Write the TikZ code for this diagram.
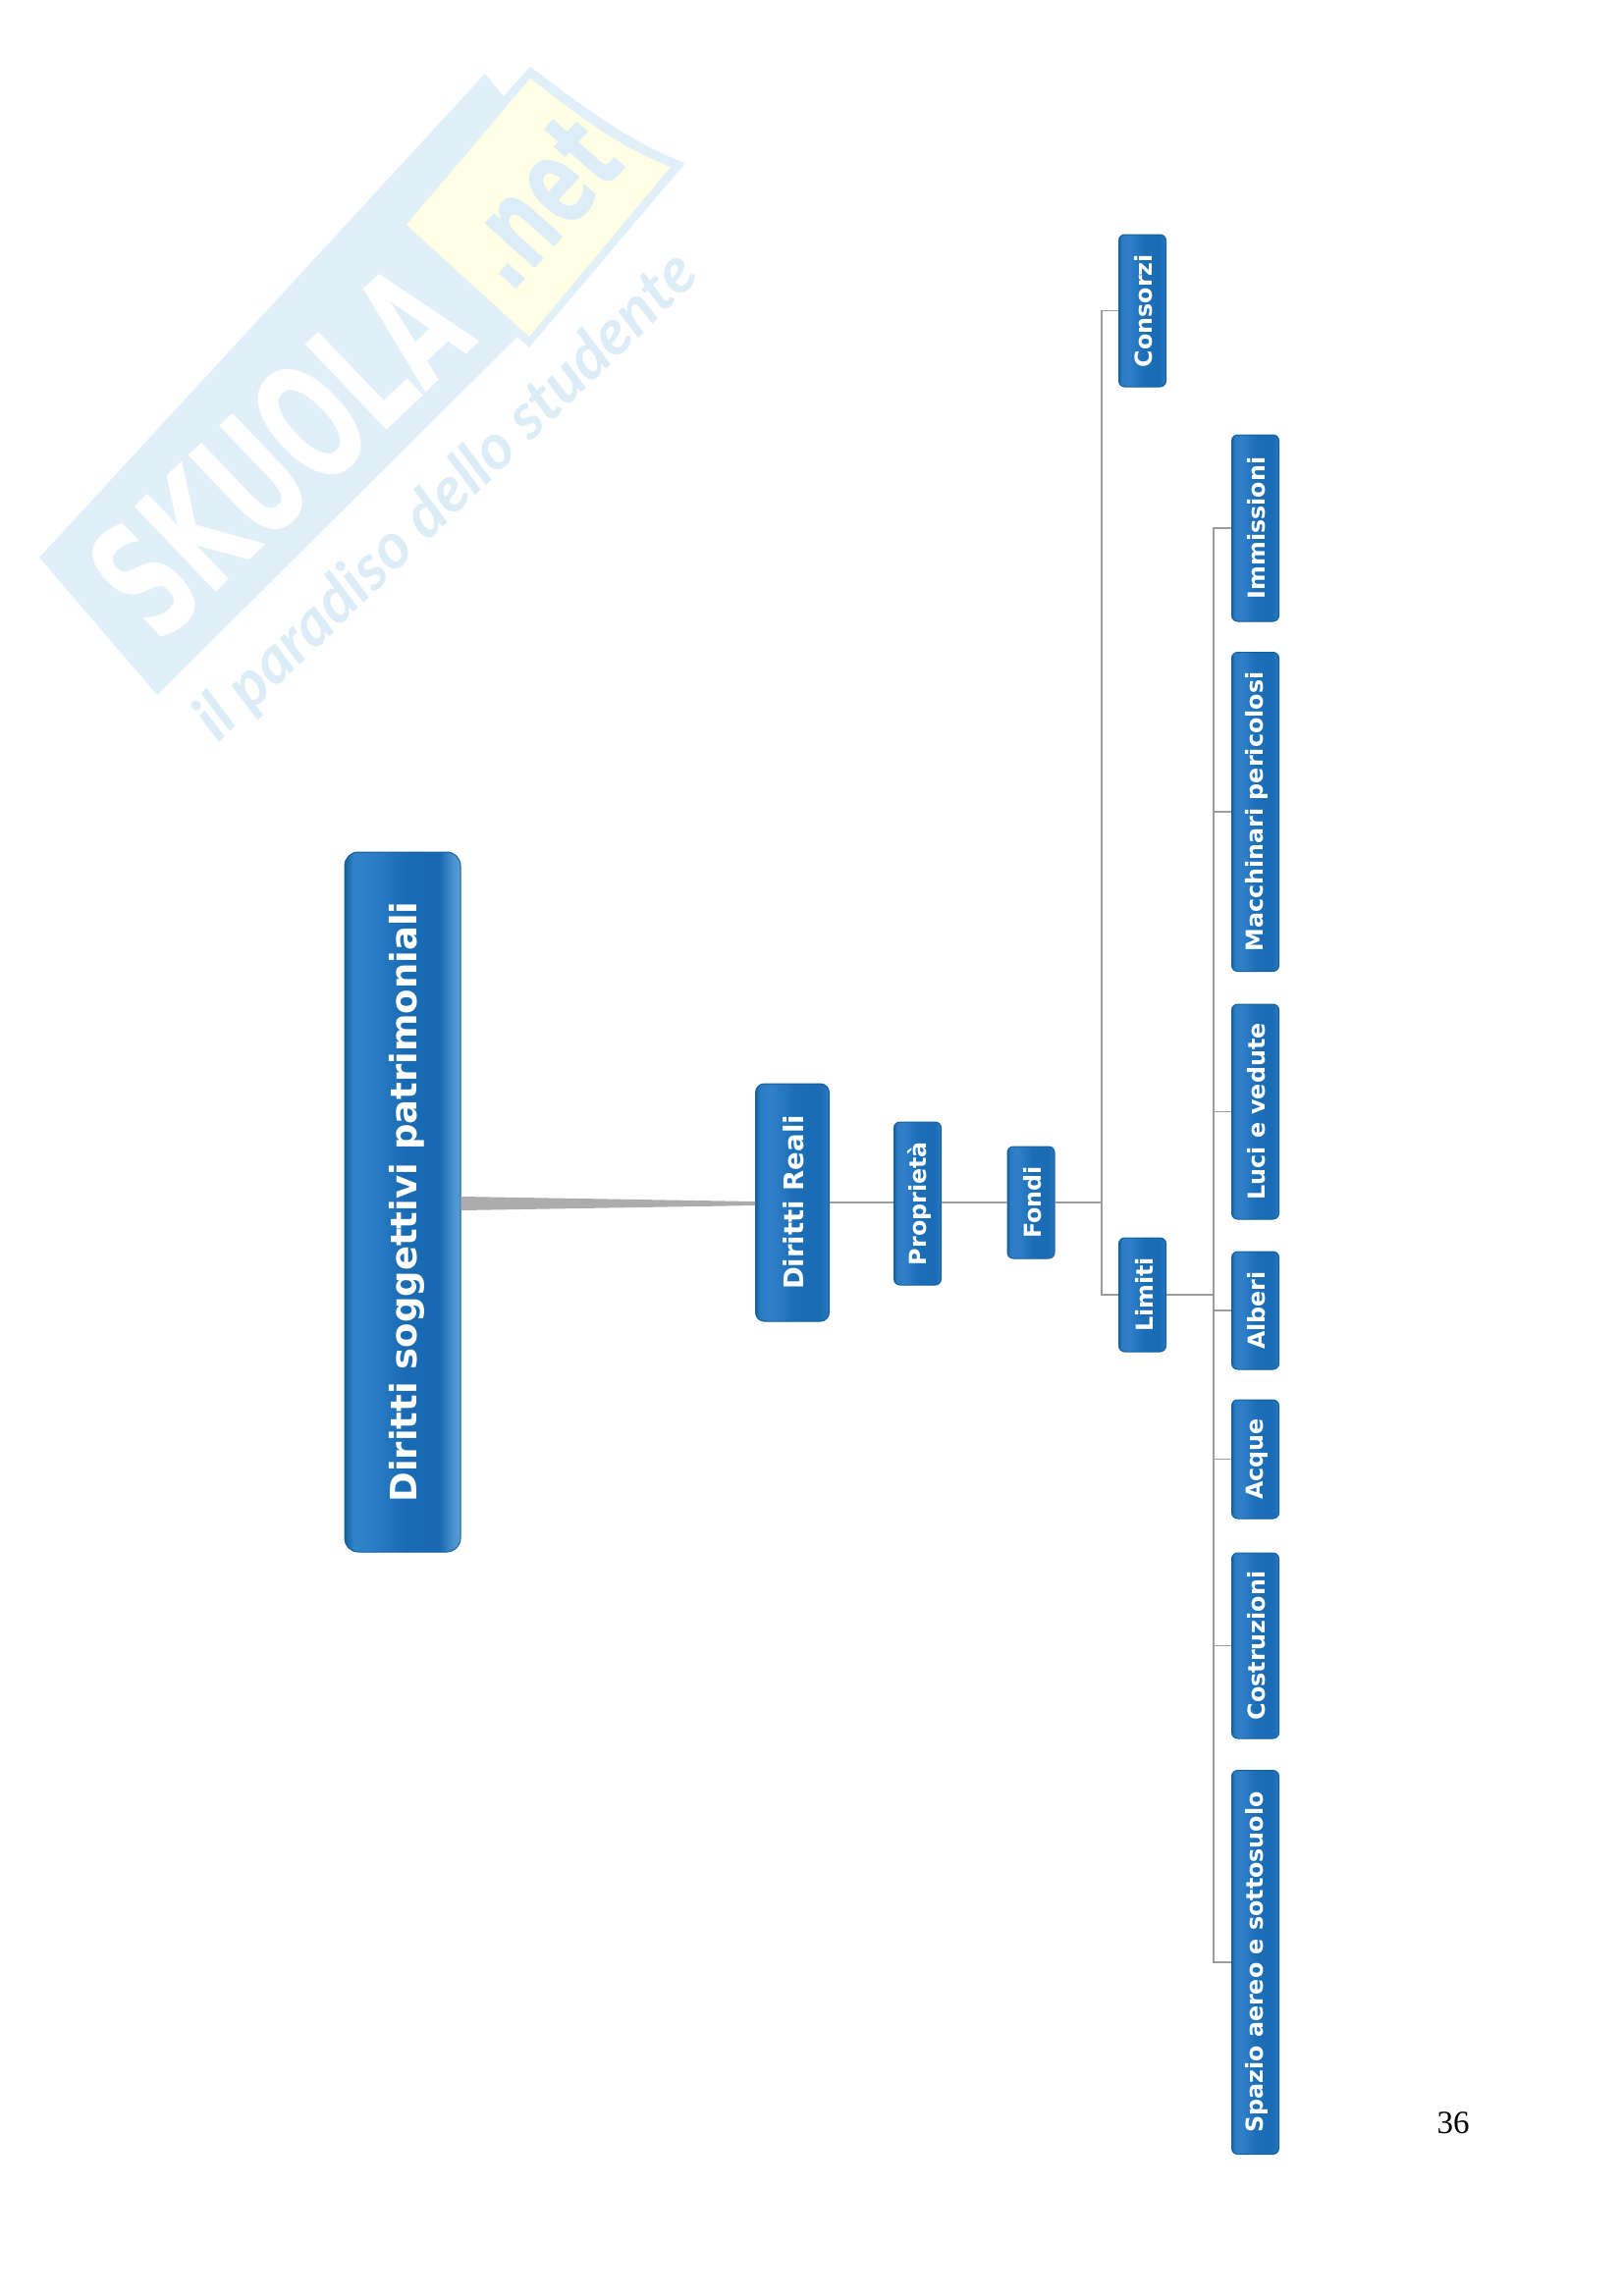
\documentclass[tikz,border=0pt]{standalone}
\usepackage{fontspec}
\usepackage{graphicx}
\setmainfont{DejaVu Sans}
\newfontfamily\pagefont{Liberation Serif}
\newfontfamily\wmfont{DejaVu Sans}
\newfontfamily\wmscript{Lato}
\definecolor{wmblue}{HTML}{E1EFF8}
\definecolor{wmtext}{HTML}{DDEDF7}
\definecolor{wmyellow}{HTML}{FFFFE6}
\definecolor{edgeblue}{HTML}{14609C}
\definecolor{linegray}{HTML}{9C9C9C}
\definecolor{sa}{HTML}{2A7CC4}
\definecolor{sb}{HTML}{2F80C8}
\definecolor{sc}{HTML}{1B6DB5}
\definecolor{sd}{HTML}{1A6CB4}
\definecolor{se}{HTML}{2A78BE}
\definecolor{ra}{HTML}{3183C9}
\definecolor{rb}{HTML}{2C7EC6}
\definecolor{rc}{HTML}{186AB2}
\definecolor{rd}{HTML}{1869B1}
\definecolor{re}{HTML}{4A92D0}
\definecolor{rf}{HTML}{5A9FD8}
\pgfdeclarehorizontalshading{boxshade}{100bp}{
  color(0bp)=(edgeblue);
  color(25bp)=(edgeblue);
  color(28bp)=(sa);
  color(36bp)=(sb);
  color(52bp)=(sc);
  color(68bp)=(sd);
  color(75bp)=(se);
  color(100bp)=(se)}
\pgfdeclarehorizontalshading{rootshade}{100bp}{
  color(0bp)=(edgeblue);
  color(25bp)=(edgeblue);
  color(29bp)=(ra);
  color(36bp)=(rb);
  color(52bp)=(rc);
  color(66bp)=(rd);
  color(72bp)=(re);
  color(75bp)=(rf);
  color(100bp)=(rf)}
\newcommand{\vt}[2][3]{\hspace*{#1pt}\rotatebox{90}{#2}}
\tikzset{
  blockbase/.style={rectangle,inner sep=0pt,text=white,draw=edgeblue,line width=1pt},
  smallbox/.style={blockbase,shading=boxshade,rounded corners=6pt,minimum width=48pt,font=\bfseries\fontsize{23.8}{28}\selectfont},
  midbox/.style={blockbase,shading=boxshade,rounded corners=9pt,minimum width=75pt,font=\bfseries\fontsize{27.5}{32}\selectfont},
  rootbox/.style={blockbase,shading=rootshade,rounded corners=14pt,minimum width=118pt,font=\bfseries\fontsize{37}{44}\selectfont},
  trunk/.style={draw=linegray,line width=1.5pt},
  stub/.style={draw=linegray,line width=1.1pt},
  wedge/.style={fill=gray!65!white,draw=none}
}
\begin{document}
\begin{tikzpicture}[x=1pt,y=-1pt]
\useasboundingbox (0,0) rectangle (1653,2339);
% watermark
\fill[wmblue] (494,75) -- (40,568) -- (160,708) -- (527,343) -- (539,354) -- (698,166)
   .. controls (640,145) and (590,105) .. (540,68) -- (513,98) -- cycle;
\fill[wmyellow] (540,80) .. controls (585,115) and (630,150) .. (683,170) -- (539,343) -- (414,229) -- cycle;
\node[text=white,rotate=43.6,inner sep=0pt] (wm1) at (284,460) {\scalebox{.60}[1]{\wmfont\bfseries\fontsize{165}{170}\selectfont SKUOLA}};
\node[text=wmtext,rotate=48,inner sep=0pt] (wm2) at (548,206) {\scalebox{.63}[1]{\wmfont\bfseries\fontsize{125}{130}\selectfont .net}};
\node[text=wmtext,rotate=44,inner sep=0pt] (wm3) at (455,507) {\wmscript\bfseries\itshape\fontsize{65}{68}\selectfont il paradiso dello studente};
% nodes
\node[rootbox,minimum height=713pt] (root) at (410,1224.5) {\vt[8]{Diritti soggettivi patrimoniali}};
\node[midbox,minimum height=242pt] (dr) at (807,1225) {\vt{Diritti Reali}};
\node[smallbox,minimum height=166pt] (prop) at (934.5,1226) {\vt{Proprietà}};
\node[smallbox,minimum height=114pt] (fondi) at (1050,1225) {\vt{Fondi}};
\node[smallbox,minimum height=155pt] (consorzi) at (1163.5,316.5) {\vt{Consorzi}};
\node[smallbox,minimum height=116pt] (limiti) at (1163.5,1319) {\vt{Limiti}};
\node[smallbox,minimum height=190pt] (imm) at (1278.5,538) {\vt{Immissioni}};
\node[smallbox,minimum height=325pt] (macch) at (1278.5,827) {\vt{Macchinari pericolosi}};
\node[smallbox,minimum height=219pt] (luci) at (1278.5,1132.5) {\vt{Luci e vedute}};
\node[smallbox,minimum height=120pt] (alberi) at (1278.5,1335) {\vt{Alberi}};
\node[smallbox,minimum height=121pt] (acque) at (1278.5,1486.5) {\vt{Acque}};
\node[smallbox,minimum height=189pt] (costr) at (1278.5,1676.5) {\vt{Costruzioni}};
\node[smallbox,minimum height=391pt] (spazio) at (1278.5,1999) {\vt{Spazio aereo e sottosuolo}};
\node[inner sep=0pt,font=\pagefont\fontsize{33}{36}\selectfont] (pagenum) at (1480,2163) {36};
% connectors
\coordinate (bus1) at (1122,1225);
\coordinate (bus2) at (1236,1319);
\fill[wedge] (root.east |- 0,1219) -- (root.east |- 0,1233) -- (dr.west |- 0,1228) -- (dr.west |- 0,1224) -- cycle;
\draw[stub] (dr.east) -- (prop.west |- dr.east);
\draw[stub] (prop.east |- dr.east) -- (fondi.west |- dr.east);
\draw[stub] (fondi.east) -- (bus1);
\draw[trunk] (consorzi.west) -| (bus1) |- (limiti.west);
\draw[stub] (limiti.east) -- (bus2);
\draw[trunk] (imm.west) -| (bus2);
\draw[stub] (macch.west) -- (macch.west -| bus2);
\draw[stub] (luci.west) -- (luci.west -| bus2);
\draw[stub] (alberi.west) -- (alberi.west -| bus2);
\draw[stub] (acque.west) -- (acque.west -| bus2);
\draw[stub] (costr.west) -- (costr.west -| bus2);
\draw[trunk] (bus2) |- (spazio.west);
\end{tikzpicture}
\end{document}
